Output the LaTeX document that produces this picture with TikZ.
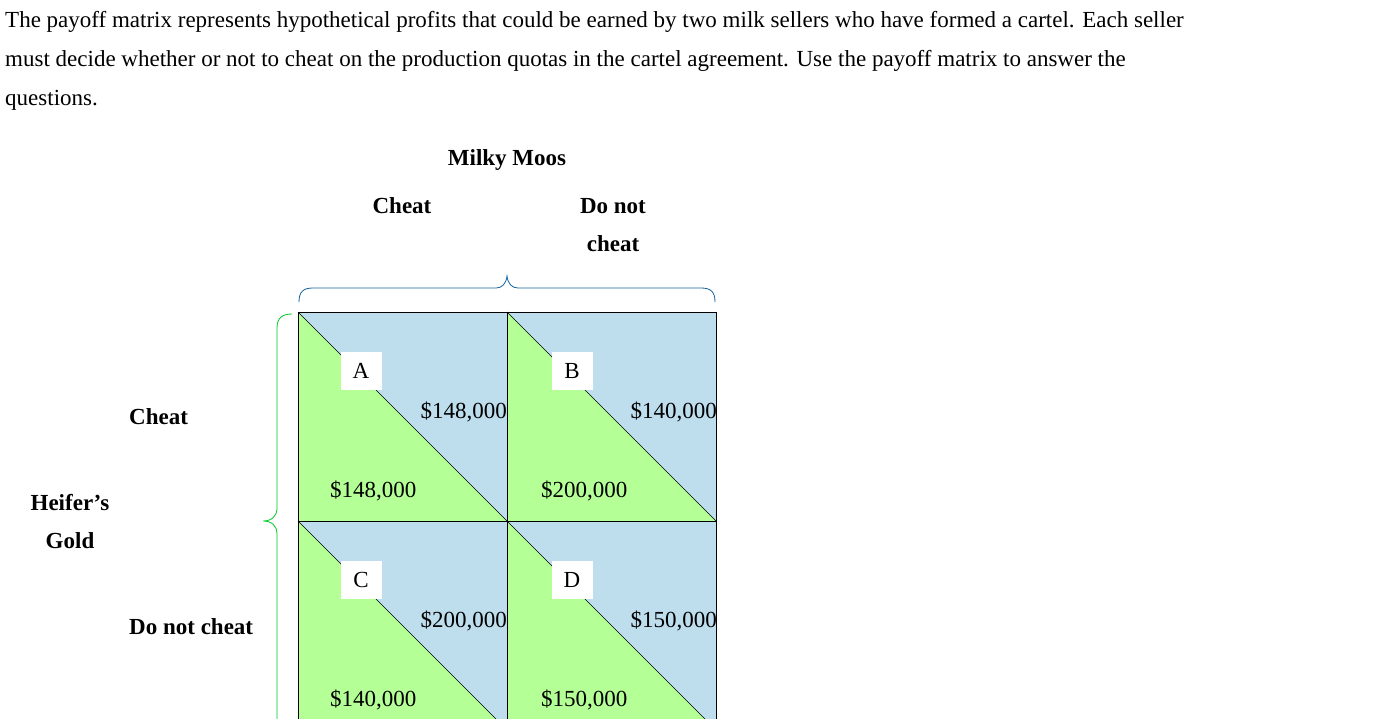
\documentclass[tikz,border=0pt]{standalone}
\usepackage{fontspec}
\setmainfont{Liberation Serif}
\begin{document}
\begin{tikzpicture}[x=1pt,y=-1pt,
  txt/.style={font=\fontsize{23}{28}\selectfont,inner sep=0pt},
  hd/.style={txt,font=\fontsize{23}{28}\selectfont\bfseries},
  lbl/.style={txt,fill=white,minimum width=41pt,minimum height=38pt},
  gr/.style={fill={rgb,255:red,180;green,255;blue,150}},
  bl/.style={fill={rgb,255:red,190;green,222;blue,238}}]
\useasboundingbox (0,0) rectangle (1398,719);
\node[txt,anchor=base west] (l1) at (5,28) {The payoff matrix represents hypothetical profits that could be earned by two milk sellers who have formed a cartel. Each seller};
\node[txt,anchor=base west] (l2) at (5,67) {must decide whether or not to cheat on the production quotas in the cartel agreement. Use the payoff matrix to answer the};
\node[txt,anchor=base west] (l3) at (5,106) {questions.};
\begin{scope}
\clip (0,0) rectangle (1398,719);
\foreach \x/\y in {298/312,507/312,298/521,507/521}{
  \fill[bl] (\x,\y) rectangle ++(209,209);
  \fill[gr] (\x,\y) -- ++(0,209) -- ++(209,0) -- cycle;
  \draw[thin] (\x,\y) -- ++(209,209);
}
\draw[thin] (298,312) rectangle (716,730);
\draw[thin] (507,312) -- (507,730);
\draw[thin] (298,521) -- (716,521);
\draw[thick,color={rgb,255:red,0;green,200;blue,40}] (292,314) .. controls (282,314) and (277,318) .. (277,328) -- (277,508) .. controls (277,516) and (272,521) .. (263,521) .. controls (272,521) and (277,526) .. (277,534) -- (277,730);
\end{scope}
\draw[thick,color={rgb,255:red,20;green,100;blue,160}] (299,302) .. controls (299,292) and (303,288) .. (313,288) -- (496,288) .. controls (502,288) and (506,284) .. (507,276) .. controls (508,284) and (512,288) .. (518,288) -- (701,288) .. controls (711,288) and (715,292) .. (715,302);
\node[lbl] (A) at (361,371) {A};
\node[lbl] (B) at (572,371) {B};
\node[lbl] (C) at (361,580) {C};
\node[lbl] (D) at (572,580) {D};
\node[txt,anchor=base east] (a1) at (507,418) {\$148,000};
\node[txt,anchor=base east] (b1) at (717,418) {\$140,000};
\node[txt,anchor=base east] (c1) at (507,627) {\$200,000};
\node[txt,anchor=base east] (d1) at (717,627) {\$150,000};
\node[txt,anchor=base west] (a2) at (330,497) {\$148,000};
\node[txt,anchor=base west] (b2) at (541,497) {\$200,000};
\node[txt,anchor=base west] (c2) at (330,706) {\$140,000};
\node[txt,anchor=base west] (d2) at (541,706) {\$150,000};
\node[hd,anchor=base] (mm) at (507,166) {Milky Moos};
\node[hd,anchor=base] (ch) at (402,214) {Cheat};
\node[hd,anchor=base] (dn1) at (613,214) {Do not};
\node[hd,anchor=base] (dn2) at (613,252) {cheat};
\node[hd,anchor=base west] (rc) at (129,424) {Cheat};
\node[hd,anchor=base west] (rd) at (129,634) {Do not cheat};
\node[hd,anchor=base] (h1) at (70,510) {Heifer's};
\node[hd,anchor=base] (h2) at (70,548) {Gold};
\end{tikzpicture}
\end{document}
